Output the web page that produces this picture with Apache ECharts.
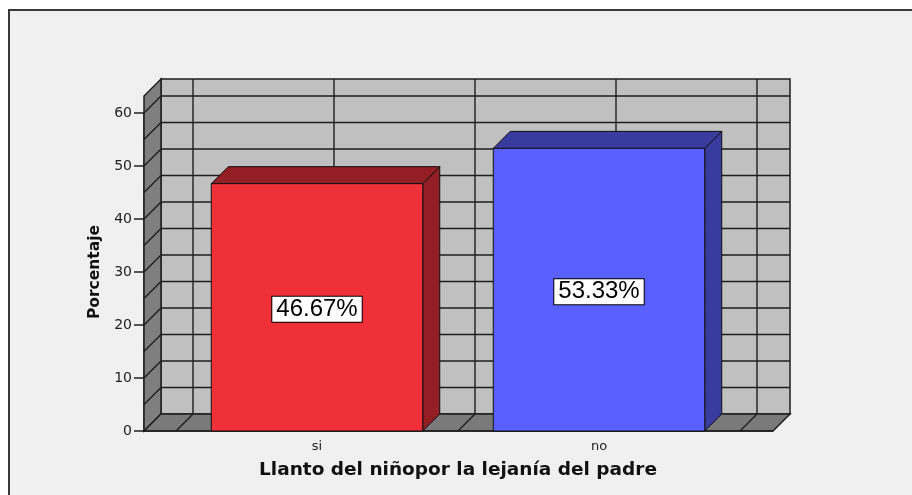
<!DOCTYPE html>
<html>
<head>
<meta charset="utf-8">
<script src="https://cdn.jsdelivr.net/npm/echarts@6/dist/echarts.min.js"></script>
<style>
  html, body { margin: 0; padding: 0; background: #fff; }
  #main { width: 912px; height: 495px; }
</style>
</head>
<body>
<div id="main"></div>
<script>
// datos del grafico
const categories = ['si', 'no'];
const porcentajes = [46.67, 53.33];
const yTicks = [0, 10, 20, 30, 40, 50, 60];
const wallTop = 63.2;        // altura de las paredes (en %)
const minorStep = 5;         // lineas de la pared del fondo

const frontColors = ['#ef3039', '#5a5fff'];
const darkColors = ['#931e23', '#3a3b9e'];
const DEPTH = 17;
const PAD_L = 32, PAD_R = 33;
const LINE = '#1e1e1e';

const chart = echarts.init(document.getElementById('main'));

function renderWalls(params, api) {
  const bw = api.size([1, 0])[0];
  const c0 = api.coord([0, 0]);
  const y0 = c0[1];
  const xl = c0[0] - bw / 2 - PAD_L;
  const xr = c0[0] - bw / 2 + bw * categories.length + PAD_R;
  const yt = api.coord([0, wallTop])[1];
  const d = DEPTH;
  const children = [];
  // pared del fondo
  children.push({ type: 'rect', shape: { x: xl + d, y: yt - d, width: xr - xl, height: y0 - yt },
    style: { fill: '#c0c0c0', stroke: LINE, lineWidth: 1.5 } });
  // pared izquierda
  children.push({ type: 'polygon', shape: { points: [[xl, y0], [xl, yt], [xl + d, yt - d], [xl + d, y0 - d]] },
    style: { fill: '#7f7f7f', stroke: LINE, lineWidth: 1.5 } });
  // piso
  children.push({ type: 'polygon', shape: { points: [[xl, y0], [xr, y0], [xr + d, y0 - d], [xl + d, y0 - d]] },
    style: { fill: '#7a7a7a', stroke: LINE, lineWidth: 1.5 } });
  // lineas horizontales
  for (let v = minorStep; v <= 60; v += minorStep) {
    const y = api.coord([0, v])[1];
    children.push({ type: 'line', shape: { x1: xl + d, y1: y - d, x2: xr + d, y2: y - d },
      style: { stroke: LINE, lineWidth: 1.4 } });
    children.push({ type: 'line', shape: { x1: xl, y1: y, x2: xl + d, y2: y - d },
      style: { stroke: LINE, lineWidth: 1.4 } });
  }
  // lineas verticales y del piso
  for (let k = 0; k <= categories.length * 2; k++) {
    const x = c0[0] - bw / 2 + k * bw / 2;
    children.push({ type: 'line', shape: { x1: x + d, y1: yt - d, x2: x + d, y2: y0 - d },
      style: { stroke: LINE, lineWidth: 1.4 } });
    children.push({ type: 'line', shape: { x1: x, y1: y0, x2: x + d, y2: y0 - d },
      style: { stroke: LINE, lineWidth: 1.4 } });
  }
  // borde frontal del piso
  children.push({ type: 'line', shape: { x1: xl, y1: y0, x2: xr, y2: y0 },
    style: { stroke: LINE, lineWidth: 1.5 } });
  return { type: 'group', children: children };
}

function renderBar(params, api) {
  const i = api.value(0);
  const val = api.value(1);
  const bw = api.size([1, 0])[0] * 0.75;
  const top = api.coord([i, val]);
  const base = api.coord([i, 0]);
  const x1 = top[0] - bw / 2, x2 = top[0] + bw / 2;
  const yv = top[1], y0 = base[1];
  const d = DEPTH;
  return {
    type: 'group',
    children: [
      { type: 'polygon', shape: { points: [[x2, yv], [x2 + d, yv - d], [x2 + d, y0 - d], [x2, y0]] },
        style: { fill: darkColors[i], stroke: '#111', lineWidth: 1 } },
      { type: 'polygon', shape: { points: [[x1, yv], [x2, yv], [x2 + d, yv - d], [x1 + d, yv - d]] },
        style: { fill: darkColors[i], stroke: '#111', lineWidth: 1 } },
      { type: 'rect', shape: { x: x1, y: yv, width: bw, height: y0 - yv },
        style: { fill: frontColors[i], stroke: '#111', lineWidth: 1 } },
      { type: 'text', x: top[0], y: (yv + y0) / 2 + 2,
        style: { text: val.toFixed(2) + '%', fill: '#000', font: '24px "Liberation Sans"',
          align: 'center', verticalAlign: 'middle', backgroundColor: '#fff',
          borderColor: '#000', borderWidth: 1, padding: [1, 4, 0, 4] } }
    ]
  };
}

const option = {
  animation: false,
  graphic: [{
    type: 'rect', shape: { x: 9, y: 10, width: 920, height: 500 },
    style: { fill: '#f0f0f0', stroke: '#3a3a3a', lineWidth: 2 }, z: -10
  }],
  grid: { left: 176, right: 172, top: 113, bottom: 64 },
  xAxis: {
    type: 'category',
    data: categories,
    name: 'Llanto del niñopor la lejanía del padre',
    nameLocation: 'middle',
    nameGap: 30,
    nameTextStyle: { fontFamily: 'DejaVu Sans', fontWeight: 'bold', fontSize: 18.5, color: '#111' },
    axisLine: { show: false },
    axisTick: { alignWithLabel: true, length: 6, lineStyle: { color: '#222', width: 1.5 } },
    axisLabel: { margin: 9, fontFamily: 'DejaVu Sans', fontSize: 13, color: '#222' },
    splitLine: { show: false }
  },
  yAxis: {
    type: 'value',
    min: yTicks[0],
    max: yTicks[yTicks.length - 1],
    interval: 10,
    offset: PAD_L,
    name: 'Porcentaje',
    nameLocation: 'middle',
    nameGap: 39,
    nameTextStyle: { fontFamily: 'DejaVu Sans', fontWeight: 'bold', fontSize: 15.5, color: '#111' },
    axisLine: { show: true, lineStyle: { color: '#222', width: 1.5 } },
    axisTick: { show: true, length: 10, lineStyle: { color: '#222', width: 1.5 } },
    axisLabel: { margin: 12, fontFamily: 'DejaVu Sans', fontSize: 14, color: '#222' },
    splitLine: { show: false }
  },
  series: [
    { type: 'custom', renderItem: renderWalls, data: [[0, 0]], clip: false, silent: true, z: 1 },
    { type: 'custom', renderItem: renderBar, data: porcentajes.map((v, i) => [i, v]), clip: false, z: 3 }
  ]
};
chart.setOption(option);
</script>
</body>
</html>
